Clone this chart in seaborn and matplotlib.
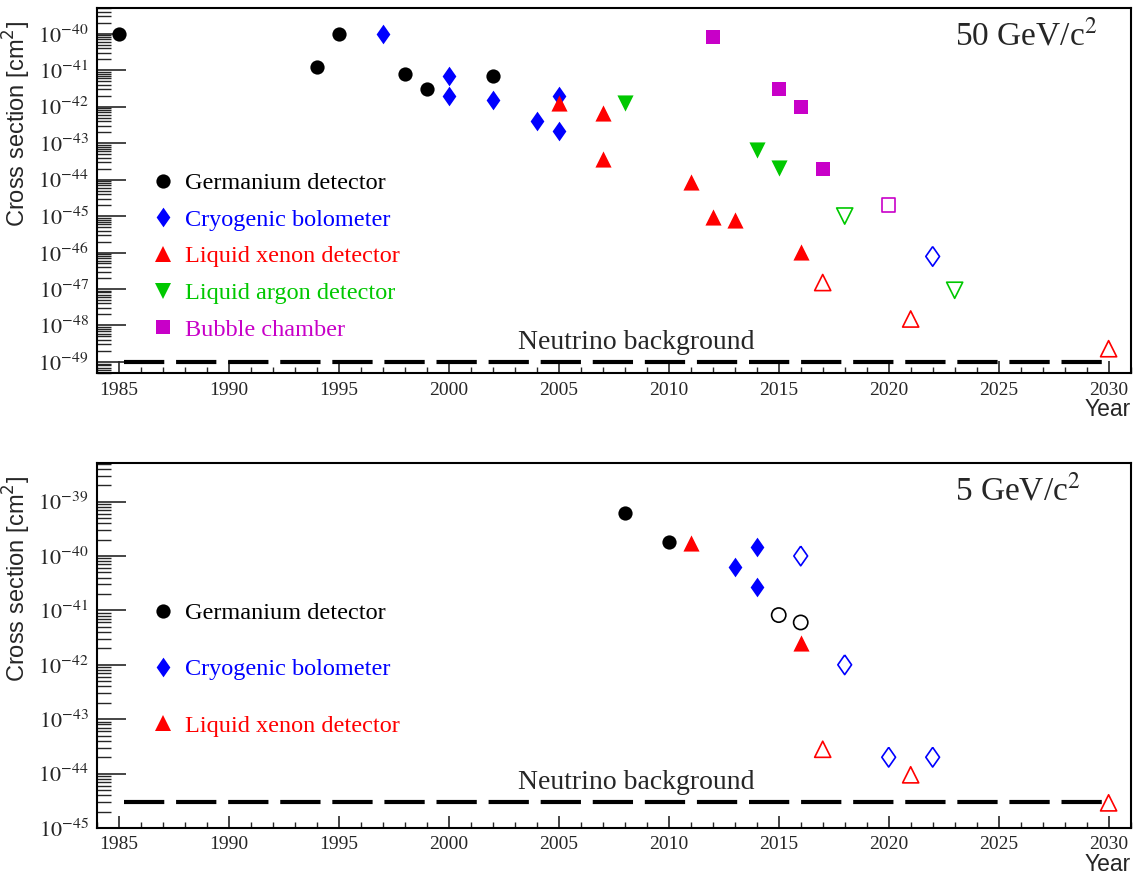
import numpy as np
import pandas as pd
import seaborn as sns
import matplotlib
matplotlib.use('Agg')
from matplotlib import pyplot as plt
from matplotlib import ticker
from matplotlib.lines import Line2D

# ---- 50 GeV/c^2 panel ----
ge50_year = [1985, 1994, 1995, 1998, 1999, 2002]
ge50_xsec = [1.0e-40, 1.2e-41, 1.0e-40, 7.9e-42, 3.0e-42, 6.9e-42]
cryo50_year = [1997, 2000, 2000, 2002, 2004, 2005, 2005]
cryo50_xsec = [1.0e-40, 6.9e-42, 1.95e-42, 1.5e-42, 4.0e-43, 2.0e-42, 2.1e-43]
cryo50_proj_year = [2022]
cryo50_proj_xsec = [7.8e-47]
xe50_year = [2005, 2007, 2007, 2011, 2012, 2013, 2016]
xe50_xsec = [1.25e-42, 6.6e-43, 3.7e-44, 8.5e-45, 9.4e-46, 7.6e-46, 1.04e-46]
xe50_proj_year = [2017, 2021, 2030]
xe50_proj_xsec = [1.5e-47, 1.5e-48, 2.3e-49]
ar50_year = [2008, 2014, 2015]
ar50_xsec = [1.23e-42, 6.3e-44, 2.1e-44]
ar50_proj_year = [2018, 2023]
ar50_proj_xsec = [1.0e-45, 9.2e-48]
bub50_year = [2012, 2015, 2016, 2017]
bub50_xsec = [8.1e-41, 3.0e-42, 1.0e-42, 2.0e-44]
bub50_proj_year = [2020]
bub50_proj_xsec = [2.0e-45]
nu50_level = 1.0e-49

# ---- 5 GeV/c^2 panel ----
ge5_year = [2008, 2010]
ge5_xsec = [6.1e-40, 1.8e-40]
ge5_proj_year = [2015, 2016]
ge5_proj_xsec = [8.2e-42, 6.0e-42]
cryo5_year = [2013, 2014, 2014]
cryo5_xsec = [6.3e-41, 1.44e-40, 2.7e-41]
cryo5_proj_year = [2016, 2018, 2020, 2022]
cryo5_proj_xsec = [1.0e-40, 1.0e-42, 2.0e-44, 2.0e-44]
xe5_year = [2011, 2016]
xe5_xsec = [1.7e-40, 2.5e-42]
xe5_proj_year = [2017, 2021, 2030]
xe5_proj_xsec = [2.8e-44, 9.5e-45, 2.9e-45]
nu5_level = 3.0e-45

nu_years = [1985.25, 2029.75]

detectors = ['Germanium detector', 'Cryogenic bolometer', 'Liquid xenon detector',
             'Liquid argon detector', 'Bubble chamber']
det_colors = ['#000000', '#0000ff', '#ff0000', '#00c800', '#c800c8']
# ROOT-like diamond: a bit wider than matplotlib's thin diamond
root_diamond = [(0, 1), (0.7, 0), (0, -1), (-0.7, 0), (0, 1)]
det_markers = ['o', root_diamond, '^', 'v', 's']
det_sizes = [105, 200, 135, 135, 90]


def make_frame(groups):
    rows = []
    for det, status, years, xsec in groups:
        for y, v in zip(years, xsec):
            rows.append({'Year': y, 'xsec': v, 'Detector': det, 'Status': status})
    return pd.DataFrame(rows)


df50 = make_frame([
    (detectors[0], 'measured', ge50_year, ge50_xsec),
    (detectors[1], 'measured', cryo50_year, cryo50_xsec),
    (detectors[1], 'projected', cryo50_proj_year, cryo50_proj_xsec),
    (detectors[2], 'measured', xe50_year, xe50_xsec),
    (detectors[2], 'projected', xe50_proj_year, xe50_proj_xsec),
    (detectors[3], 'measured', ar50_year, ar50_xsec),
    (detectors[3], 'projected', ar50_proj_year, ar50_proj_xsec),
    (detectors[4], 'measured', bub50_year, bub50_xsec),
    (detectors[4], 'projected', bub50_proj_year, bub50_proj_xsec),
])
df5 = make_frame([
    (detectors[0], 'measured', ge5_year, ge5_xsec),
    (detectors[0], 'projected', ge5_proj_year, ge5_proj_xsec),
    (detectors[1], 'measured', cryo5_year, cryo5_xsec),
    (detectors[1], 'projected', cryo5_proj_year, cryo5_proj_xsec),
    (detectors[2], 'measured', xe5_year, xe5_xsec),
    (detectors[2], 'projected', xe5_proj_year, xe5_proj_xsec),
])

sns.set_theme(style='white')
plt.rcParams['font.family'] = ['Liberation Serif', 'DejaVu Serif']
plt.rcParams['mathtext.fontset'] = 'stix'
plt.rcParams['lines.scale_dashes'] = False

fig = plt.figure(figsize=(11.34, 8.76), dpi=100)
ax_top = fig.add_axes([0.0855, 0.574, 0.9115, 0.417])
ax_bot = fig.add_axes([0.0855, 0.0548, 0.9115, 0.4167])


def draw_panel(ax, df, nu_level, ylim, label, n_legend, leg_anchor, leg_spacing):
    for i, det in enumerate(detectors):
        for status in ['measured', 'projected']:
            sub = df[(df['Detector'] == det) & (df['Status'] == status)]
            if sub.empty:
                continue
            if status == 'measured':
                sns.scatterplot(data=sub, x='Year', y='xsec', ax=ax, marker=det_markers[i],
                                s=det_sizes[i], color=det_colors[i], edgecolor=det_colors[i],
                                linewidth=0, zorder=3)
            else:
                sns.scatterplot(data=sub, x='Year', y='xsec', ax=ax, marker=det_markers[i],
                                s=det_sizes[i], color=det_colors[i], facecolor='none',
                                edgecolor=det_colors[i], linewidth=1.2, zorder=3)

    ax.plot(nu_years, [nu_level, nu_level], color='black', lw=3.0,
            linestyle=(0, (29, 8.5)), solid_capstyle='butt', dash_capstyle='butt', zorder=2)
    ax.annotate('Neutrino background', xy=(2008.5, nu_level), xytext=(0, 5),
                textcoords='offset points', ha='center', va='bottom', fontsize=20)

    ax.set_yscale('log')
    ax.set_xlim(1984, 2031)
    ax.set_ylim(*ylim)

    ax.xaxis.set_major_locator(ticker.MultipleLocator(5))
    ax.xaxis.set_minor_locator(ticker.MultipleLocator(1))
    ax.yaxis.set_major_locator(ticker.LogLocator(base=10, numticks=100))
    ax.yaxis.set_minor_locator(ticker.LogLocator(base=10, subs=np.arange(2, 10), numticks=100))
    ax.yaxis.set_major_formatter(ticker.FuncFormatter(lambda v, p: r'$10^{%d}$' % round(np.log10(v))))
    ax.yaxis.set_minor_formatter(ticker.NullFormatter())

    ax.tick_params(axis='x', which='major', direction='in', length=9, width=1.2,
                   labelsize=14, pad=6, top=False, bottom=True)
    ax.tick_params(axis='x', which='minor', direction='in', length=4.5, width=1.0,
                   top=False, bottom=True)
    ax.tick_params(axis='y', which='major', direction='in', length=21, width=1.2,
                   labelsize=16, pad=6, left=True, right=False)
    ax.tick_params(axis='y', which='minor', direction='in', length=10, width=1.0,
                   left=True, right=False)

    for sp in ax.spines.values():
        sp.set_color('black')
        sp.set_linewidth(1.5)

    ax.set_xlabel('')
    ax.set_ylabel(r'Cross section [cm$^{2}$]', family='Liberation Sans', fontsize=17,
                  loc='top', labelpad=4)
    ax.yaxis.label.set_math_fontfamily('dejavusans')
    ax.yaxis.label.set_y(0.965)
    ax.text(1.0, -0.1, 'Year', transform=ax.transAxes, ha='right', va='center',
            family='Liberation Sans', fontsize=16.5)
    ax.text(0.83, 0.90, label, transform=ax.transAxes, ha='left', va='baseline', fontsize=24)

    handles = [Line2D([], [], linestyle='none', marker=det_markers[i], color=det_colors[i],
                      markersize=np.sqrt(det_sizes[i]), markeredgewidth=0)
               for i in range(n_legend)]
    ax.legend(handles, detectors[:n_legend], loc='upper left', bbox_to_anchor=leg_anchor,
              frameon=False, fontsize=17.5, handlelength=1.0, handletextpad=0.42,
              borderpad=0, borderaxespad=0, labelspacing=leg_spacing,
              labelcolor=det_colors[:n_legend])


draw_panel(ax_top, df50, nu50_level, (10 ** -49.31, 10 ** -39.29), r'50 GeV/c$^{2}$', 5,
           (0.052, 0.55), 0.60)
draw_panel(ax_bot, df5, nu5_level, (1e-45, 10 ** -38.29), r'5 GeV/c$^{2}$', 3,
           (0.052, 0.618), 1.40)

fig.savefig('out.png', dpi=100)
